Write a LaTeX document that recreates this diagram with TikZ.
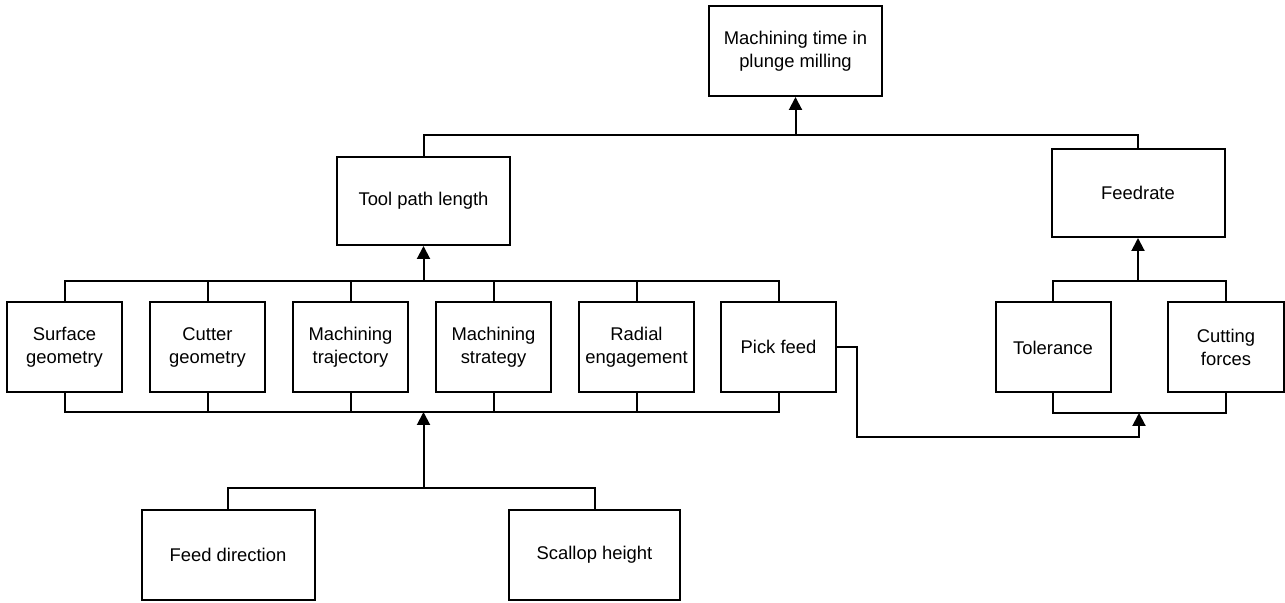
\documentclass[tikz,border=0pt]{standalone}
\usepackage{fontspec}
\setmainfont{Liberation Sans}
\usetikzlibrary{arrows.meta}

\begin{document}
\begin{tikzpicture}[x=0.5pt,y=-0.5pt,line width=1pt,
	box/.style={draw,align=center,font=\fontsize{9.2}{11.5}\selectfont,inner sep=0pt,minimum height=45pt},
	wide/.style={box,minimum width=86.5pt},
	narrow/.style={box,minimum width=57.5pt},
	arr/.style={-{Triangle[length=6.5pt,width=6.5pt]}}]
	\useasboundingbox (0,0) rectangle (1285,603);

	\node[wide] (time) at (795.5,51) {Machining time in\\plunge milling};
	\node[wide,minimum height=44pt] (tpl) at (423.5,201) {Tool path length};
	\node[wide,minimum height=44pt] (frate) at (1138,193) {Feedrate};

	\node[narrow] (surf) at (64.5,347) {Surface\\geometry};
	\node[narrow] (cutg) at (207.5,347) {Cutter\\geometry};
	\node[narrow] (traj) at (350.5,347) {Machining\\trajectory};
	\node[narrow] (strat) at (493.5,347) {Machining\\strategy};
	\node[narrow] (radial) at (636.5,347) {Radial\\engagement};
	\node[narrow] (pick) at (778.5,347) {Pick feed};

	\node[narrow] (tol) at (1053,347.5) {Tolerance};
	\node[narrow,minimum width=58pt] (force) at (1226,347.5) {Cutting\\forces};

	\node[wide] (fdir) at (228,555) {Feed direction};
	\node[wide,minimum width=85.5pt] (scal) at (594.5,555) {Scallop height};

	\coordinate (j1) at (795.5,135);
	\coordinate (j2) at (423.5,281);
	\coordinate (j3) at (423.5,412);
	\coordinate (j4) at (423.5,488);
	\coordinate (j5) at (1138,281);
	\coordinate (j6) at (1139,413);
	\coordinate (k) at (857,437);

	\draw (tpl.north) |- (j1) -| (frate.north);
	\draw[arr] (j1) -- (time.south);

	\draw (surf.north) |- (j2) -| (pick.north);
	\draw (surf.south) |- (j3) -| (pick.south);
	\foreach \n in {cutg,traj,strat,radial}{
		\draw (\n.north) -- (\n.north|-j2);
		\draw (\n.south) -- (\n.south|-j3);
	}
	\draw[arr] (j2) -- (tpl.south);

	\draw (fdir.north) |- (j4) -| (scal.north);
	\draw[arr] (j4) -- (j3);

	\draw (tol.north) |- (j5) -| (force.north);
	\draw[arr] (j5) -- (frate.south);
	\draw (tol.south) |- (j6) -| (force.south);
	\draw[arr] (pick.east) -| (k) -| (j6);
\end{tikzpicture}
\end{document}
